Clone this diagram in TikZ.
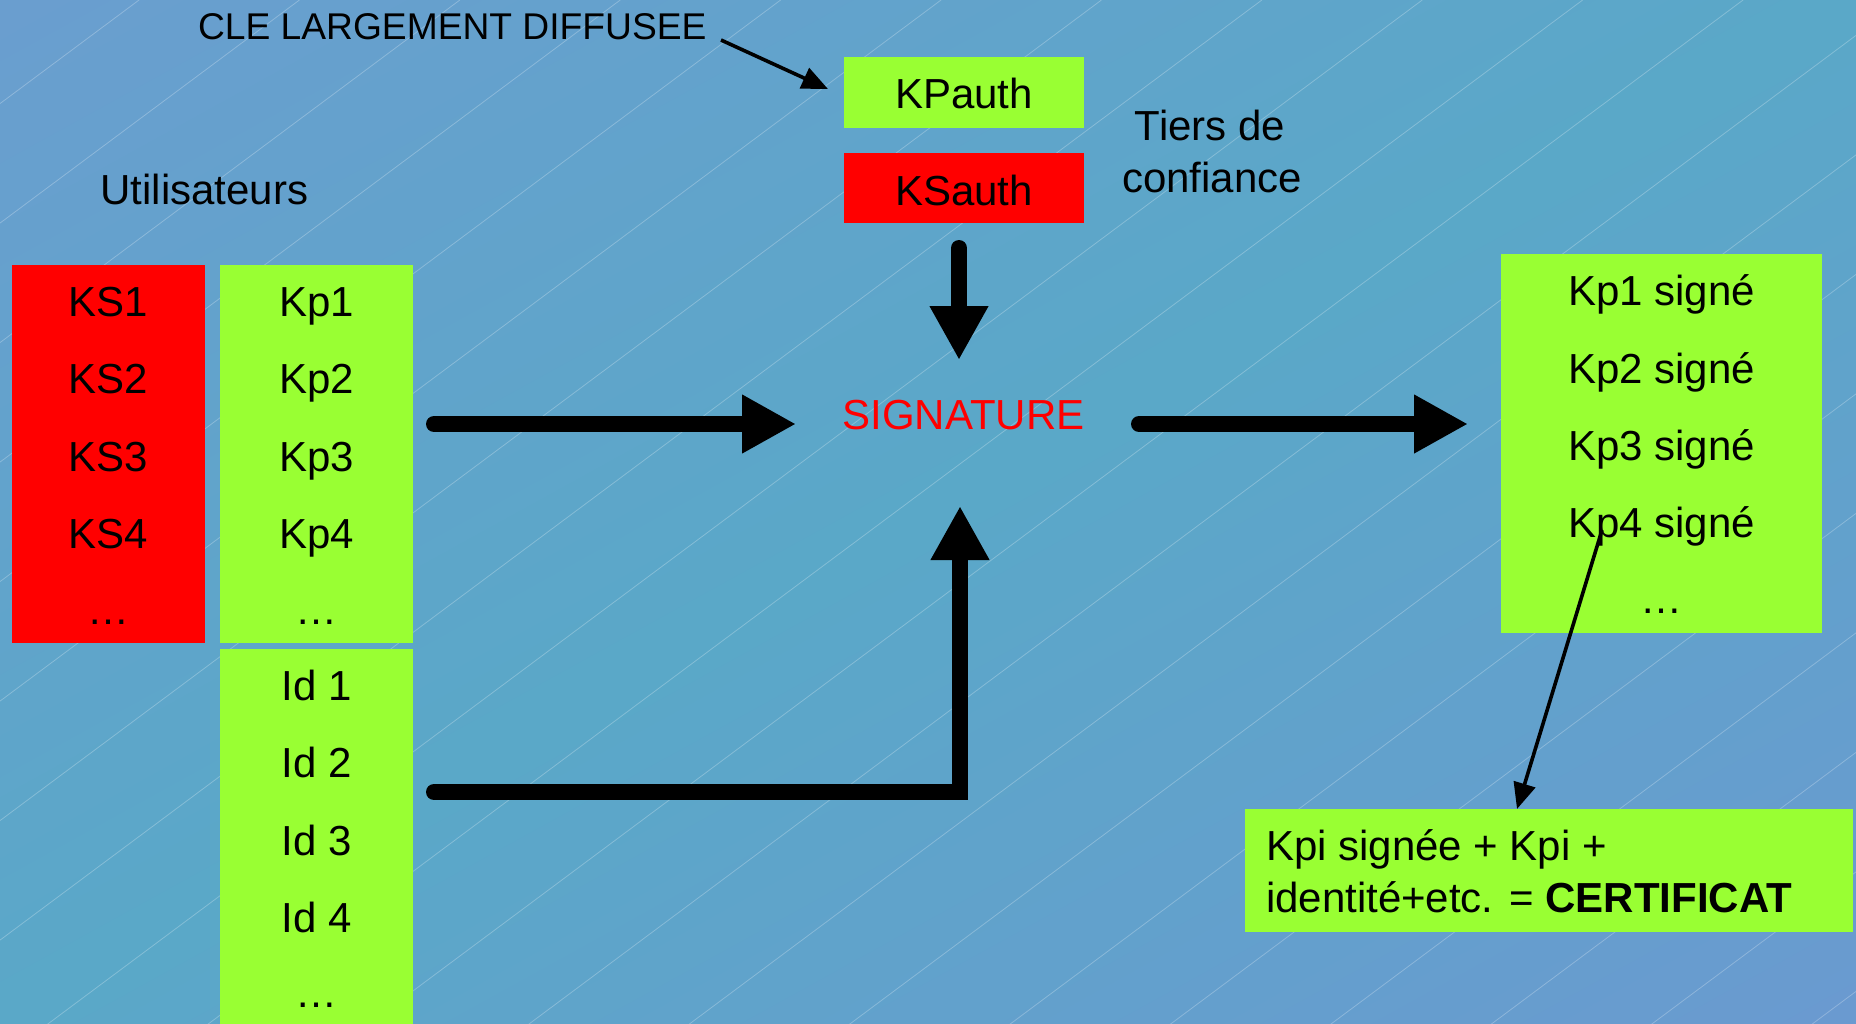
\documentclass[tikz,border=0pt]{standalone}
\usepackage{fontspec}
\setmainfont{Liberation Sans}
\usetikzlibrary{arrows.meta}

\definecolor{keygreen}{HTML}{99FF33}
\definecolor{keyred}{HTML}{FF0000}
\definecolor{bgA}{HTML}{6A9ECF}
\definecolor{bgB}{HTML}{5AA8C8}
\definecolor{bgC}{HTML}{6A9AD0}

\begin{document}
\begin{tikzpicture}[x=0.5pt,y=-0.5pt,
  every node/.style={inner sep=0pt,outer sep=0pt},
  txt/.style={font=\fontsize{21}{25}\selectfont,anchor=base},
  smalltxt/.style={font=\fontsize{18.6}{22}\selectfont,anchor=base west},
  greenbox/.style={fill=keygreen,anchor=north west},
  redbox/.style={fill=keyred,anchor=north west},
  bigarrow/.style={line width=8pt,line cap=round,line join=miter,
    -{Triangle[length=27pt,width=27.5pt]}},
  thinarrow/.style={line width=1.8pt,-{Triangle[length=13pt,width=11pt]}},
  bgline/.style={white,opacity=0.25,line width=0.4pt}]

\useasboundingbox (0,0) rectangle (1856,1023);
\clip (0,0) rectangle (1856,1023);

% diagonal background gradient, built from thin bands
\foreach \k in {0,...,99}{
  \pgfmathsetmacro{\ta}{\k/50}
  \pgfmathsetmacro{\tb}{(\k+1.4)/50}
  \pgfmathsetmacro{\tm}{(\k+0.5)/50}
  \pgfmathsetmacro{\pa}{100*min(\tm,1)}
  \pgfmathsetmacro{\pq}{100-100*max(\tm-1,0)}
  \fill[color=bgB!\pa!bgA!\pq!bgC]
    (\ta*1856,0) -- (\tb*1856,0) -- (0,\tb*1023) -- (0,\ta*1023) -- cycle;
}
% faint slanted hairlines of the backdrop
\foreach \k in {0,...,20}{
  \pgfmathsetmacro{\c}{103.6+119.5*\k}
  \draw[bgline] (0,\c) -- (\c/0.745,0);
}

% users: private keys, public keys, identities
\node[redbox,minimum width=96.5pt,minimum height=189pt] (ks) at (12,265) {};
\node[greenbox,minimum width=96.5pt,minimum height=189pt] (kp) at (220,265) {};
\node[greenbox,minimum width=96.5pt,minimum height=200pt] (id) at (220,649) {};

\node[txt] (users) at (204.5,204) {Utilisateurs};

\node[txt] (ks1) at (108.5,316.5) {KS1};
\node[txt] (ks2) at (108.5,393) {KS2};
\node[txt] (ks3) at (108.5,471) {KS3};
\node[txt] (ks4) at (108.5,548) {KS4};
\node[txt] (ks5) at (108.5,624) {…};

\node[txt] (kp1) at (316.5,316.5) {Kp1};
\node[txt] (kp2) at (316.5,393) {Kp2};
\node[txt] (kp3) at (316.5,471) {Kp3};
\node[txt] (kp4) at (316.5,548) {Kp4};
\node[txt] (kp5) at (316.5,624) {…};

\node[txt] (id1) at (316.5,700) {Id 1};
\node[txt] (id2) at (316.5,777) {Id 2};
\node[txt] (id3) at (316.5,855) {Id 3};
\node[txt] (id4) at (316.5,932) {Id 4};
\node[txt] (id5) at (316.5,1007) {…};

% trusted third party
\node[greenbox,minimum width=120pt,minimum height=35.5pt] (kpauth) at (844,57) {};
\node[redbox,minimum width=120pt,minimum height=35pt] (ksauth) at (844,153) {};
\node[txt] (kpauthT) at (964,108) {KPauth};
\node[txt] (ksauthT) at (964,205) {KSauth};
\node[txt] (tiers1) at (1210,140) {Tiers de};
\node[txt] (tiers2) at (1212,192) {confiance};

\node[smalltxt] (cle) at (198,39) {CLE LARGEMENT DIFFUSEE};

% signing step
\node[txt,text=keyred] (sig) at (963.5,429) {SIGNATURE};

% signed keys
\node[greenbox,minimum width=160.5pt,minimum height=189.5pt] (signed) at (1501,254) {};
\node[txt] (s1) at (1661.5,305) {Kp1 signé};
\node[txt] (s2) at (1661.5,383) {Kp2 signé};
\node[txt] (s3) at (1661.5,460) {Kp3 signé};
\node[txt] (s4) at (1661.5,537) {Kp4 signé};
\node[txt] (s5) at (1661.5,613) {…};

% certificate
\node[greenbox,minimum width=304pt,minimum height=61.5pt] (cert) at (1245,809) {};
\node[txt,anchor=base west] (cert1) at (1266,860) {Kpi signée + Kpi +};
\node[txt,anchor=base west] (cert2) at (1266,912) {identité+etc. = \textbf{CERTIFICAT}};

% connector end points
\coordinate (kpOut)   at (434,424);
\coordinate (sigWest) at (796,424);
\coordinate (sigEast) at (1139,424);
\coordinate (signIn)  at (1468,424);
\coordinate (authOut) at (959,248);
\coordinate (sigTop)  at (959,360);
\coordinate (idOut)   at (434,792);
\coordinate (idTurn)  at (960,792);
\coordinate (sigBot)  at (960,506);
\coordinate (cleOut)  at (721,40);
\coordinate (cleTip)  at (828,89);
\coordinate (kp4Out)  at (1602,530);
\coordinate (certIn)  at (1517,809);

\draw[bigarrow] (kpOut) -- (sigWest);
\draw[bigarrow] (sigEast) -- (signIn);
\draw[bigarrow] (authOut) -- (sigTop);
\draw[bigarrow] (idOut) -- (idTurn) -- (sigBot);
\draw[thinarrow] (cleOut) -- (cleTip);
\draw[thinarrow] (kp4Out) -- (certIn);
\end{tikzpicture}
\end{document}
